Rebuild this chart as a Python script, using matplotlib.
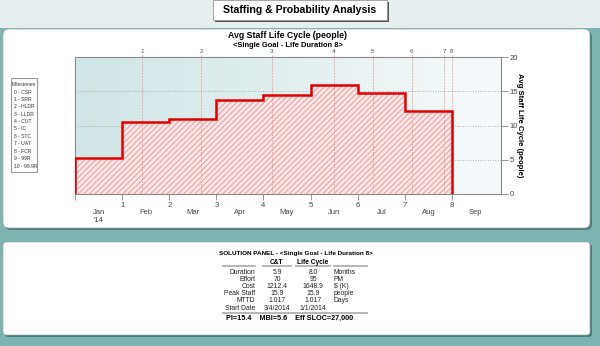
import numpy as np
import matplotlib
matplotlib.use('Agg')
import matplotlib.pyplot as plt
from matplotlib.patches import FancyBboxPatch, Rectangle
from matplotlib.colors import LinearSegmentedColormap
import matplotlib.transforms as mtransforms

# Staffing profile (people per month) and milestone positions (months)
months = np.arange(0, 9)
staff = [5.2, 10.5, 10.9, 13.7, 14.4, 15.9, 14.8, 12.1]
milestone_pos = [1.42, 2.68, 4.18, 5.49, 6.32, 7.15, 7.84, 8.0]
milestone_ticks = ['1', '2', '3', '4', '5', '6', '7', '8']
month_names = ['Jan', 'Feb', 'Mar', 'Apr', 'May', 'Jun', 'Jul', 'Aug', 'Sep']
milestone_key = ['0 - CSR', '1 - SRR', '2 - HLDR', '3 - LLDR', '4 - CUT', '5 - IC',
                 '6 - STC', '7 - UAT', '8 - FCR', '9 - 99R', '10 - 99.9R']

# Solution panel
row_names = ['Duration', 'Effort', 'Cost', 'Peak Staff', 'MTTD', 'Start Date']
ct_values = ['5.9', '70', '1212.4', '15.9', '1.017', '3/4/2014']
lc_values = ['8.0', '95', '1648.9', '15.9', '1.017', '1/1/2014']
units = ['Months', 'PM', '$ (K)', 'people', 'Days', '']
footer = 'PI=15.4    MBI=5.6    Eff SLOC=27,000'

FONT = ['Liberation Sans Narrow', 'Liberation Sans', 'DejaVu Sans']
plt.rcParams['font.family'] = FONT
plt.rcParams['hatch.linewidth'] = 0.6

W, H = 600, 346
fig = plt.figure(figsize=(W / 100, H / 100), dpi=100)
fig.patch.set_facecolor('#7db4af')
# pixel coordinates with origin at the top-left corner
px = mtransforms.Affine2D().scale(1 / 100, -1 / 100).translate(0, H / 100) + fig.dpi_scale_trans


def panel(x0, y0, x1, y1, face, r=6, shadow=True):
    if shadow:
        fig.add_artist(FancyBboxPatch((x0 + 2, y0 + 2), x1 - x0, y1 - y0,
                                      boxstyle=f'round,pad=0,rounding_size={r}',
                                      transform=px, fc='#4d7c78', ec='none', zorder=-3))
    fig.add_artist(FancyBboxPatch((x0, y0), x1 - x0, y1 - y0,
                                  boxstyle=f'round,pad=0,rounding_size={r}',
                                  transform=px, fc=face, ec='#9aa', lw=0.5, zorder=-2))


# light header strip
fig.add_artist(Rectangle((0, 0), W, 28, transform=px, fc='#e7eeee', ec='none', zorder=-4))
panel(3, 29, 590, 228, 'white')
panel(3, 242, 590, 335, 'white', r=3)

# title tab
fig.add_artist(Rectangle((215, 2), 174, 20, transform=px, fc='#555555', ec='none', zorder=-2))
fig.add_artist(Rectangle((213, 0), 174, 20, transform=px, fc='white', ec='#999999', lw=0.6,
                         zorder=-1))
fig.text(300, 10, 'Staffing & Probability Analysis', transform=px, ha='center', va='center',
         fontsize=7.6, fontweight='bold')

# chart
ax = fig.add_axes([75 / W, 1 - 194 / H, 426 / W, 137 / H])
grad = np.linspace(0, 1, 256).reshape(1, -1)
cmap = LinearSegmentedColormap.from_list('bg', ['#d0e5e5', '#e4efef', '#f7fafa'])
ax.imshow(grad, extent=[0, 1, 0, 1], transform=ax.transAxes, aspect='auto', cmap=cmap, zorder=0)

edges = list(staff) + [staff[-1]]
ax.fill_between(months, edges, step='post', facecolor='#fce6e6', edgecolor='#ee8f8f',
                hatch='//////', linewidth=0, zorder=2)
xs = np.repeat(months, 2)
ys = np.concatenate([[0], np.repeat(staff, 2), [0]])
ax.plot(xs, ys, color='#e00000', lw=1.8, zorder=4, solid_joinstyle='miter')

for p in milestone_pos:
    ax.axvline(p, color='#ec9a9a', lw=0.6, ls=(0, (2, 1.5)), zorder=3)

ax.set_xlim(0, 9.04)
ax.set_ylim(0, 20)
ax.set_axisbelow(True)
ax.yaxis.grid(True, color='#9a9a9a', ls=(0, (1, 2)), lw=0.6)
ax.yaxis.tick_right()
ax.set_yticks([0, 5, 10, 15, 20])
ax.tick_params(axis='y', length=5, width=0.6, colors='#888888', labelsize=5.5,
               labelcolor='#444444', pad=1)
ax.set_xticks(months)
ax.set_xticklabels([''] + [str(m) for m in months[1:]])
ax.tick_params(axis='x', length=4, width=0.6, colors='#888888', labelsize=5.5,
               labelcolor='#444444', pad=2)
for s in ax.spines.values():
    s.set_color('#8a8a8a')
    s.set_linewidth(0.8)

top = ax.secondary_xaxis('top')
top.set_xticks(milestone_pos)
top.set_xticklabels(milestone_ticks)
top.tick_params(length=1.5, width=0.6, colors='#cc9999', labelsize=4.6, labelcolor='#555555',
                pad=0.5)
top.spines['top'].set_visible(False)

for i, name in enumerate(month_names):
    ax.text(i + 0.5, -18 / 137, name, transform=ax.get_xaxis_transform(), ha='center',
            va='center', fontsize=5.5, color='#444444')
ax.text(0.5, -26 / 137, "'14", transform=ax.get_xaxis_transform(), ha='center',
        va='center', fontsize=5.5, color='#444444')

fig.text(288, 36, 'Avg Staff Life Cycle (people)', transform=px, ha='center', va='center',
         fontsize=6.3, fontweight='bold')
fig.text(288, 45.5, '<Single Goal - Life Duration 8>', transform=px, ha='center', va='center',
         fontsize=5.4, fontweight='bold')
fig.text(520, 125, 'Avg Staff Life Cycle (people)', transform=px, ha='center', va='center',
         rotation=-90, fontsize=5.6, fontweight='bold')

# milestone key
fig.add_artist(Rectangle((11, 78), 26, 94, transform=px, fc='white', ec='#999999', lw=0.8))
fig.text(24, 84, 'Milestones', transform=px, ha='center', va='center', fontsize=3.6,
         color='#333333')
for i, lab in enumerate(milestone_key):
    fig.text(13.5, 92 + i * 7.4, lab, transform=px, ha='left', va='center', fontsize=3.6,
             color='#333333')

# solution panel
fig.text(296, 253, 'SOLUTION PANEL - <Single Goal - Life Duration 8>', transform=px,
         ha='center', va='center', fontsize=4.6, fontweight='bold')
fig.text(277, 262, 'C&T', transform=px, ha='center', va='center', fontsize=4.8,
         fontweight='bold')
fig.text(313, 262, 'Life Cycle', transform=px, ha='center', va='center', fontsize=4.8,
         fontweight='bold')
for a, b in [(223, 255), (263, 291), (296, 330), (334, 367)]:
    fig.add_artist(plt.Line2D([a, b], [266, 266], transform=px, color='#aaaaaa', lw=1.2))
for i, name in enumerate(row_names):
    y = 272.5 + i * 7.1
    fig.text(255, y, name, transform=px, ha='right', va='center', fontsize=4.9, color='#222222')
    fig.text(277, y, ct_values[i], transform=px, ha='center', va='center', fontsize=4.9,
             color='#222222')
    fig.text(313, y, lc_values[i], transform=px, ha='center', va='center', fontsize=4.9,
             color='#222222')
    fig.text(334, y, units[i], transform=px, ha='left', va='center', fontsize=4.9,
             color='#222222')
fig.add_artist(plt.Line2D([223, 367], [312.5, 312.5], transform=px, color='#aaaaaa', lw=1.2))
fig.text(290, 318, footer, transform=px, ha='center', va='center', fontsize=5.2,
         fontweight='bold')

fig.savefig('out.png', dpi=100, facecolor=fig.get_facecolor())
